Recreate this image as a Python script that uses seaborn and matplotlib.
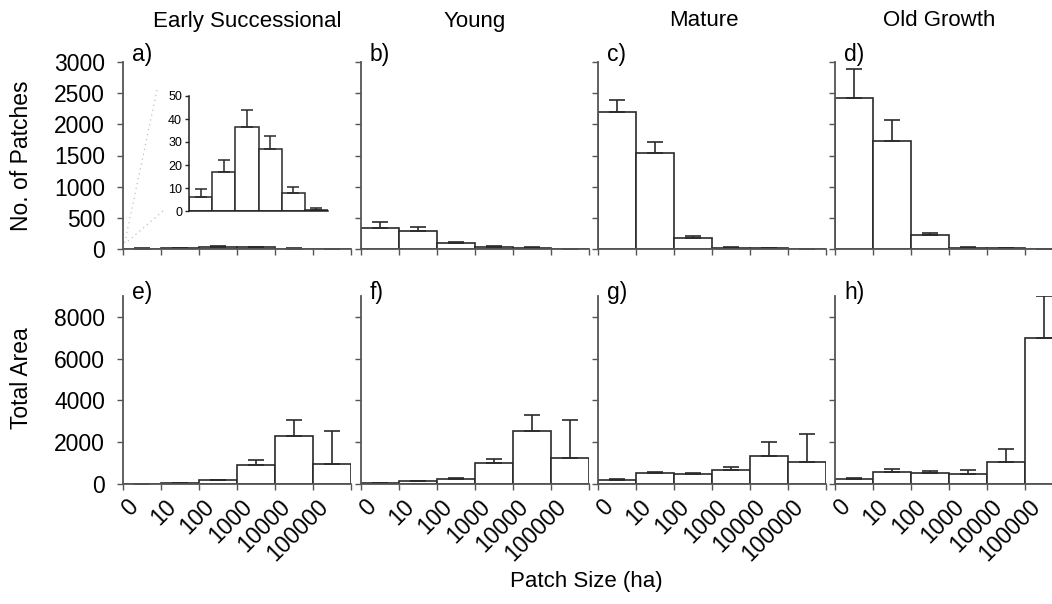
import numpy as np
import pandas as pd
import matplotlib
matplotlib.use("Agg")
import matplotlib.pyplot as plt
import seaborn as sns
from matplotlib.transforms import ScaledTranslation
from matplotlib.lines import Line2D

# ---------------- data ----------------
size_classes = ["0", "10", "100", "1000", "10000", "100000"]
stages = ["Early Successional", "Young", "Mature", "Old Growth"]
panel_letters_top = ["a)", "b)", "c)", "d)"]
panel_letters_bot = ["e)", "f)", "g)", "h)"]

# number of patches (mean, upper error-bar end)
patches_early = [6, 17, 36.5, 27, 8, 0.6]
patches_early_hi = [9.5, 22, 44, 32.5, 10.5, 1.2]
patches_young = [339, 286, 90, 37, 16, 5]
patches_young_hi = [435, 355, 106, 48, 27, 8]
patches_mature = [2195, 1543, 180, 21, 10, 5]
patches_mature_hi = [2397, 1723, 212, 32, 15, 7]
patches_old = [2427, 1738, 217, 21, 10, 5]
patches_old_hi = [2883, 2067, 260, 32, 15, 7]

# total area (mean, upper error-bar end)
area_early = [16, 30, 176, 913, 2292, 962]
area_early_hi = [20, 36, 192, 1154, 3077, 2532]
area_young = [32, 128, 256, 1008, 2528, 1264]
area_young_hi = [40, 140, 304, 1216, 3280, 3056]
area_mature = [208, 513, 465, 673, 1346, 1042]
area_mature_hi = [240, 577, 529, 817, 1987, 2404]
area_old = [224, 593, 529, 497, 1042, 7003]
area_old_hi = [272, 705, 641, 673, 1699, 9022]

top_means = [patches_early, patches_young, patches_mature, patches_old]
top_hi = [patches_early_hi, patches_young_hi, patches_mature_hi, patches_old_hi]
bot_means = [area_early, area_young, area_mature, area_old]
bot_hi = [area_early_hi, area_young_hi, area_mature_hi, area_old_hi]

# ---------------- style ----------------
sns.set_style("ticks")
plt.rcParams["font.family"] = ["Liberation Sans", "DejaVu Sans"]
plt.rcParams["text.color"] = "black"
plt.rcParams["axes.labelcolor"] = "black"
plt.rcParams["xtick.labelcolor"] = "black"
plt.rcParams["ytick.labelcolor"] = "black"

W, H = 1052, 604
fig = plt.figure(figsize=(W / 100, H / 100), dpi=100)

EDGE = "#2a2a2a"
SPINE = "#555555"

def px_rect(l, r, top, bot):
    return [l / W, 1 - bot / H, (r - l) / W, (bot - top) / H]

col_left = [123, 361, 598, 835]
col_w = 228
title_x = [247, 475, 704, 939]


def draw_panel(ax, means, hi, ylim, yticks, show_ylabels, show_xlabels,
               tick_fs=16.5, capsize=5.5, lw=1.2):
    df = pd.DataFrame({"size": size_classes, "value": means})
    sns.barplot(data=df, x="size", y="value", order=size_classes, ax=ax,
                width=1.0, color="white", edgecolor=EDGE, linewidth=lw,
                saturation=1, errorbar=None)
    pos = np.arange(len(means))
    lower = np.zeros(len(means))
    upper = np.array(hi) - np.array(means)
    ax.errorbar(pos, means, yerr=[lower, upper], fmt="none", ecolor=EDGE,
                elinewidth=lw, capsize=capsize, capthick=lw)
    ax.set_xlim(-0.5, 5.5)
    ax.set_ylim(*ylim)
    ax.set_yticks(yticks)
    ax.set_xticks(np.arange(-0.5, 6.0, 1.0))
    ax.set_xlabel("")
    ax.set_ylabel("")
    sns.despine(ax=ax)
    for s in ["left", "bottom"]:
        ax.spines[s].set_color(SPINE)
        ax.spines[s].set_linewidth(1.3)
    ax.tick_params(axis="both", direction="out", length=4, width=1,
                   color=SPINE, labelsize=tick_fs, labelcolor="black")
    ax.tick_params(axis="y", pad=9)
    if show_ylabels:
        ax.set_yticklabels([str(t) for t in yticks])
    else:
        ax.set_yticklabels([])
    if show_xlabels:
        ax.set_xticklabels(size_classes + [""], rotation=45, ha="right",
                           va="center", rotation_mode="anchor")
        ax.tick_params(axis="x", pad=10)
        off = ScaledTranslation(12 / 100, 0, fig.dpi_scale_trans)
        for lab in ax.get_xticklabels():
            lab.set_transform(lab.get_transform() + off)
    else:
        ax.set_xticklabels([])


for i in range(4):
    # top row: number of patches
    ax_t = fig.add_axes(px_rect(col_left[i], col_left[i] + col_w, 62, 249))
    draw_panel(ax_t, top_means[i], top_hi[i], (0, 3000),
               [0, 500, 1000, 1500, 2000, 2500, 3000], i == 0, False)
    # bottom row: total area
    ax_b = fig.add_axes(px_rect(col_left[i], col_left[i] + col_w, 296, 484))
    draw_panel(ax_b, bot_means[i], bot_hi[i], (0, 9000),
               [0, 2000, 4000, 6000, 8000], i == 0, True)

    fig.text(title_x[i] / W, 1 - 21 / H, stages[i], ha="center", va="center",
             fontsize=16)
    fig.text((col_left[i] + 9) / W, 1 - 54 / H, panel_letters_top[i],
             ha="left", va="center", fontsize=16.5)
    fig.text((col_left[i] + 9) / W, 1 - 293 / H, panel_letters_bot[i],
             ha="left", va="center", fontsize=16.5)

# inset for panel a
ax_in = fig.add_axes(px_rect(189, 328, 96, 211))
df_in = pd.DataFrame({"size": size_classes, "value": patches_early})
sns.barplot(data=df_in, x="size", y="value", order=size_classes, ax=ax_in,
            width=1.0, color="white", edgecolor=EDGE, linewidth=1.1,
            saturation=1, errorbar=None)
ax_in.errorbar(np.arange(6), patches_early,
               yerr=[np.zeros(6), np.array(patches_early_hi) - np.array(patches_early)],
               fmt="none", ecolor=EDGE, elinewidth=1.1, capsize=4, capthick=1.1)
ax_in.set_xlim(-0.5, 5.5)
ax_in.set_ylim(0, 50)
ax_in.set_yticks([0, 10, 20, 30, 40, 50])
ax_in.set_xticks([])
ax_in.set_xlabel("")
ax_in.set_ylabel("")
sns.despine(ax=ax_in)
for s in ["left", "bottom"]:
    ax_in.spines[s].set_color("#222222")
    ax_in.spines[s].set_linewidth(1.1)
ax_in.tick_params(axis="y", direction="out", length=3, width=1,
                  labelsize=9, pad=2, labelcolor="black")
ax_in.patch.set_alpha(0)

# dotted connector lines from the inset down to the origin of panel a
for (x0, y0, x1, y1) in [(157, 90, 124, 246), (163, 211, 127, 242)]:
    fig.add_artist(Line2D([x0 / W, x1 / W], [1 - y0 / H, 1 - y1 / H],
                          transform=fig.transFigure, color="#c0c0c0",
                          linestyle=(0, (1, 3)), linewidth=0.9))

# axis labels
fig.text(22 / W, 1 - 156 / H, "No. of Patches", rotation=90, ha="center",
         va="center", fontsize=16.5)
fig.text(22 / W, 1 - 378 / H, "Total Area", rotation=90, ha="center",
         va="center", fontsize=16.5)
fig.text(586 / W, 1 - 581 / H, "Patch Size (ha)", ha="center", va="center",
         fontsize=16)

fig.savefig("out.png", dpi=100)
